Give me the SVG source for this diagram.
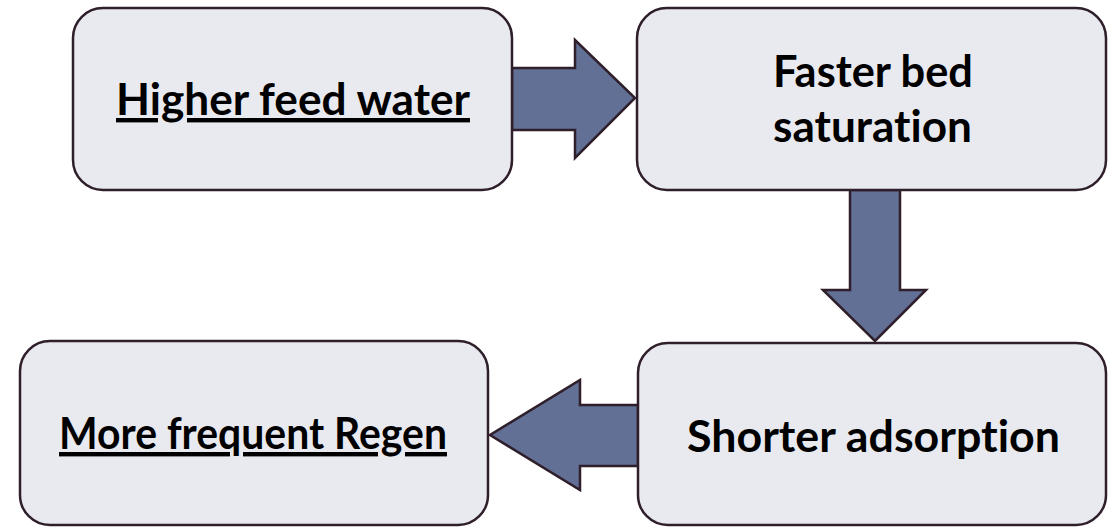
<svg xmlns="http://www.w3.org/2000/svg" width="1115" height="527" viewBox="0 0 1115 527">
<style>
.box{fill:#E9EAF0;stroke:#2E1F2A;stroke-width:2.5}
.arr{fill:#627096;stroke:#2E1F2A;stroke-width:2.5;stroke-linejoin:miter}
.t{font-family:Lato,"Open Sans",sans-serif;font-weight:bold;font-size:44px;fill:#000;text-anchor:middle;font-variant-ligatures:none;font-feature-settings:"liga" 0,"dlig" 0,"clig" 0}
.u{text-decoration:underline}
</style>
<rect width="1115" height="527" fill="#fff"/>
<g id="connectors">
<polygon class="arr" points="512,68 575,68 575,40 635,98 575,158 575,130 512,130"/>
<polygon class="arr" points="850,190 900,190 900,290 926,290 875,341 823,290 850,290"/>
<polygon class="arr" points="638,405 580,405 580,380 490,435 580,490 580,466 638,466"/>
</g>
<g id="n1"><rect class="box" x="73" y="8" width="439" height="182" rx="30"/><text class="t u" x="293" y="115" textLength="354" lengthAdjust="spacingAndGlyphs">Higher feed water</text></g>
<g id="n2"><rect class="box" x="637" y="8" width="469" height="182" rx="30"/><text class="t" x="873" y="87" textLength="200" lengthAdjust="spacingAndGlyphs">Faster bed</text><text class="t" x="872.5" y="142" textLength="199" lengthAdjust="spacingAndGlyphs">saturation</text></g>
<g id="n3"><rect class="box" x="638" y="343" width="468" height="182" rx="30"/><text class="t" x="873.5" y="452" textLength="373" lengthAdjust="spacingAndGlyphs">Shorter adsorption</text></g>
<g id="n4"><rect class="box" x="20" y="341" width="468" height="184" rx="30"/><text class="t u" x="253" y="449" textLength="388" lengthAdjust="spacingAndGlyphs">More frequent Regen</text></g>
</svg>
